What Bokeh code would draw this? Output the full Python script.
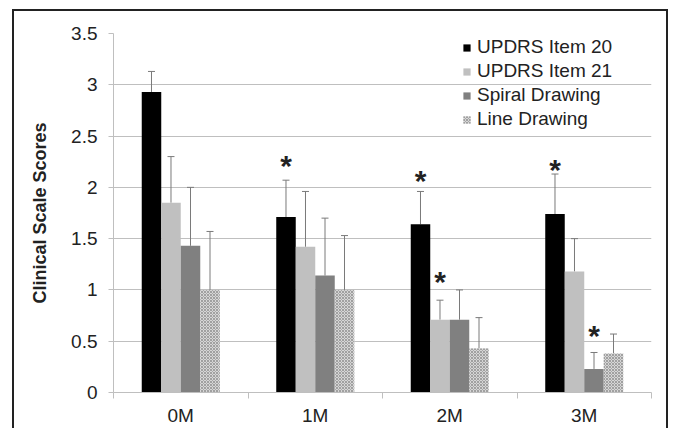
from bokeh.plotting import figure
from bokeh.models import (ColumnDataSource, Range1d, FixedTicker, Whisker, TeeHead,
                          Legend, LegendItem)
from bokeh.core.properties import value
from bokeh.embed import file_html
from bokeh.resources import INLINE

# ---- data ----
months = ["0M", "1M", "2M", "3M"]
series = ["UPDRS Item 20", "UPDRS Item 21", "Spiral Drawing", "Line Drawing"]
item20 = [2.93, 1.71, 1.64, 1.74]
item21 = [1.85, 1.42, 0.71, 1.18]
spiral = [1.43, 1.14, 0.71, 0.23]
line_d = [1.00, 1.00, 0.43, 0.38]
item20_err = [0.20, 0.36, 0.32, 0.39]
item21_err = [0.45, 0.54, 0.19, 0.32]
spiral_err = [0.57, 0.56, 0.29, 0.16]
line_err = [0.57, 0.53, 0.30, 0.19]
# significance stars: (series index, month index) and height of each star
star_series = [0, 0, 1, 0, 2]
star_month = [1, 2, 2, 3, 3]
star_y = [2.26, 2.12, 1.13, 2.22, 0.60]
y_ticks = [0, 0.5, 1, 1.5, 2, 2.5, 3, 3.5]
y_tick_labels = ["0", "0.5", "1", "1.5", "2", "2.5", "3", "3.5"]

values = [item20, item21, spiral, line_d]
errors = [item20_err, item21_err, spiral_err, line_err]

FONT = "Liberation Sans"
GRID = "#bfbfbf"
ERR = "#7a7a7a"

p = figure(width=656, height=419, output_backend="svg", toolbar_location=None,
           x_range=Range1d(0, 4), y_range=Range1d(0, 3.5),
           min_border_left=99, min_border_right=19, min_border_top=22,
           min_border_bottom=38)
p.styles = {"border-top": "2px solid #222", "border-left": "2px solid #222",
            "border-right": "2px solid #222", "margin-left": "12px",
            "margin-top": "9px"}
p.outline_line_color = None
p.xgrid.grid_line_color = None
p.ygrid.grid_line_color = GRID
p.ygrid.ticker = FixedTicker(ticks=y_ticks)

bw = 0.145
offsets = [-1.5 * bw, -0.5 * bw, 0.5 * bw, 1.5 * bw]
styles = [
    dict(fill_color="#000000"),
    dict(fill_color="#c0c0c0"),
    dict(fill_color="#808080"),
    dict(fill_color="#d6d6d6", hatch_pattern="diagonal_cross", hatch_color="#a0a0a0",
         hatch_scale=3, hatch_weight=1),
]

items = []
for k in range(4):
    xs = [i + 0.5 + offsets[k] for i in range(len(months))]
    src = ColumnDataSource(dict(x=xs, top=values[k],
                                up=[v + e for v, e in zip(values[k], errors[k])]))
    r = p.vbar(x="x", top="top", width=bw, source=src, line_color=None, **styles[k])
    items.append(LegendItem(label=series[k], renderers=[r]))
    w = Whisker(base="x", lower="top", upper="up", source=src, dimension="height",
                line_color=ERR, line_width=1, lower_head=None,
                upper_head=TeeHead(size=7, line_color=ERR, line_width=1))
    p.add_layout(w)

sx = [m + 0.5 + offsets[s] for s, m in zip(star_series, star_month)]
p.text(x=sx, y=star_y, text=["*"] * len(star_y), text_align="center",
       text_baseline="alphabetic", y_offset=5, text_font=value(FONT),
       text_font_size="30px", text_font_style="bold", text_color="#222222")

# axes
ya = p.yaxis[0]
ya.ticker = FixedTicker(ticks=y_ticks, minor_ticks=[])
ya.major_label_overrides = {t: l for t, l in zip(y_ticks, y_tick_labels)}
ya.axis_line_color = GRID
ya.major_tick_line_color = GRID
ya.major_tick_out = 5
ya.major_tick_in = 0
ya.minor_tick_line_color = None
ya.major_label_text_font = FONT
ya.major_label_text_font_size = "19px"
ya.major_label_text_color = "#222222"
ya.major_label_standoff = 11
ya.axis_label = "Clinical Scale Scores"
ya.axis_label_text_font = FONT
ya.axis_label_text_font_style = "bold"
ya.axis_label_text_font_size = "18px"
ya.axis_label_text_color = "#222222"
ya.axis_label_standoff = 18

xa = p.xaxis[0]
xa.ticker = FixedTicker(ticks=[i + 0.5 for i in range(len(months))],
                        minor_ticks=list(range(len(months) + 1)))
xa.major_label_overrides = {i + 0.5: m for i, m in enumerate(months)}
xa.axis_line_color = GRID
xa.major_tick_line_color = None
xa.major_tick_out = 0
xa.major_tick_in = 0
xa.minor_tick_line_color = GRID
xa.minor_tick_out = 6
xa.minor_tick_in = 0
xa.major_label_text_font = FONT
xa.major_label_text_font_size = "19px"
xa.major_label_text_color = "#222222"
xa.major_label_standoff = 6

legend = Legend(items=items, location="top_right", orientation="vertical",
                background_fill_alpha=0, border_line_color=None,
                label_text_font=FONT, label_text_font_size="19px",
                label_text_color="#222222", glyph_width=9, glyph_height=9,
                label_standoff=6, label_width=171, label_height=22, spacing=2,
                padding=0, margin=3)
p.add_layout(legend)

open("out.html", "w").write(file_html(p, INLINE))
